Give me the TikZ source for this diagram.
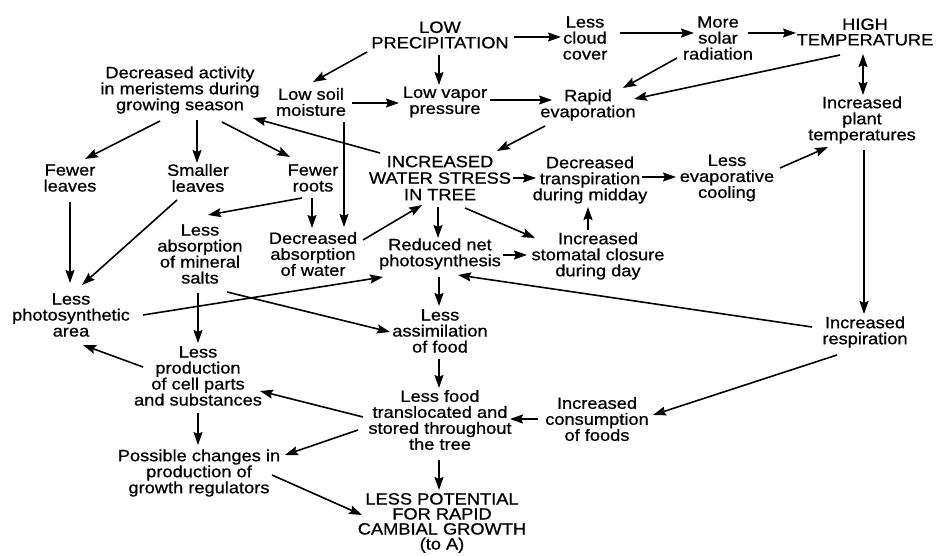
\documentclass[tikz,border=0pt]{standalone}
\usepackage{fontspec}
\setmainfont{Liberation Sans}[FakeStretch=1.12,FakeBold=0.8]
\usetikzlibrary{arrows.meta}
\newcommand\conn[5][]{\draw[arr,#1] ([shift={(#3)}]#2.center) -- ([shift={(#5)}]#4.center);}
\begin{document}
\begin{tikzpicture}[x=1pt,y=-1pt,
  box/.style={align=center,inner sep=0pt,font=\fontsize{16.3}{16}\selectfont},
  capsbox/.style={box,font=\fontsize{16.3}{15.5}\selectfont},
  arr/.style={line width=1.6pt,-{Stealth[length=13pt,width=9pt,inset=2pt]}},
  dblarr/.style={line width=1.6pt,{Stealth[length=13pt,width=9pt,inset=2pt]}-{Stealth[length=13pt,width=9pt,inset=2pt]}}]
\useasboundingbox (0,0) rectangle (938,556);

% causes at the top
\node[capsbox] (lowp)   at (440,35)  {LOW\\PRECIPITATION};
\node[box]     (cloud)  at (585,38)  {Less\\cloud\\cover};
\node[box]     (solar)  at (718,38)  {More\\solar\\radiation};
\node[capsbox] (hight)  at (865,32)  {HIGH\\TEMPERATURE};
\node[box]     (meri)   at (180,90)  {Decreased activity\\in meristems during\\growing season};
\node[box]     (soil)   at (311,102) {Low soil\\moisture};
\node[box]     (vapor)  at (445,102) {Low vapor\\pressure};
\node[box]     (rapid)  at (588,105) {Rapid\\evaporation};
\node[box]     (plantt) at (862,120) {Increased\\plant\\temperatures};

% middle band
\node[box]     (fleaves) at (70,178)  {Fewer\\leaves};
\node[box]     (sleaves) at (198,178) {Smaller\\leaves};
\node[box]     (froots)  at (313,178) {Fewer\\roots};
\node[box,font=\fontsize{16.3}{16.5}\selectfont] (stress) at (440,178) {INCREASED\\WATER STRESS\\IN TREE};
\node[box]     (transp)  at (590,180) {Decreased\\transpiration\\during midday};
\node[box]     (evapc)   at (727,178) {Less\\evaporative\\cooling};
\node[box]     (mineral) at (200,254) {Less\\absorption\\of mineral\\salts};
\node[box]     (decabs)  at (313,254) {Decreased\\absorption\\of water};
\node[box]     (rnp)     at (440,254) {Reduced net\\photosynthesis};
\node[box]     (stomata) at (598,256) {Increased\\stomatal closure\\during day};

% lower band
\node[box]     (parea)   at (71,315)  {Less\\photosynthetic\\area};
\node[box]     (assim)   at (440,331) {Less\\assimilation\\of food};
\node[box]     (resp)    at (865,332) {Increased\\respiration};
\node[box]     (prod)    at (198,376) {Less\\production\\of cell parts\\and substances};
\node[box]     (food)    at (440,420) {Less food\\translocated and\\stored throughout\\the tree};
\node[box]     (consum)  at (597,419) {Increased\\consumption\\of foods};
\node[box]     (regul)   at (199,473) {Possible changes in\\production of\\growth regulators};
\node[box,font=\fontsize{16.3}{15}\selectfont] (cambial) at (442,523) {LESS POTENTIAL\\FOR RAPID\\CAMBIAL GROWTH\\(to A)};

% connectors
\conn{lowp}{74,2}{cloud}{-24,-1}
\conn{lowp}{-73,17}{soil}{2,-20}
\conn{lowp}{-1,20}{vapor}{-6,-17}
\conn{cloud}{35,-5}{solar}{-24,-5}
\conn{solar}{30,-5}{hight}{-69,1}
\conn{solar}{-41,20}{rapid}{35,-17}
\conn{hight}{-25,23}{rapid}{46,-6}
\conn[dblarr]{hight}{-2,22}{plantt}{1,-25}
\conn{soil}{41,1}{vapor}{-46,1}
\conn{vapor}{45,-2}{rapid}{-36,-5}
\conn{rapid}{-43,21}{stress}{57,-27}
\conn{stress}{-60,-25}{meri}{73,28}
\conn{meri}{-20,31}{fleaves}{15,-19}
\conn{meri}{17,30}{sleaves}{-1,-15}
\conn{meri}{42,32}{froots}{-23,-21}
\conn{soil}{33,20}{decabs}{31,-27}
\conn{froots}{-1,20}{decabs}{-1,-26}
\conn{froots}{-11,20}{mineral}{8,-39}
\conn{sleaves}{-21,22}{parea}{11,-30}
\conn{fleaves}{0,24}{parea}{-1,-32}
\conn{decabs}{50,-14}{stress}{-18,27}
\conn{stress}{-2,29}{rnp}{-2,-16}
\conn{stress}{73,0}{transp}{-54,-2}
\conn{stress}{25,30}{stomata}{-63,-18}
\conn{transp}{52,-3}{evapc}{-51,-1}
\conn{evapc}{53,-10}{plantt}{-34,27}
\conn{plantt}{2,30}{resp}{-1,-18}
\conn{stomata}{-10,-26}{transp}{-2,27}
\conn{rnp}{63,1}{stomata}{-71,-1}
\conn{parea}{72,0}{rnp}{-57,23}
\conn{mineral}{27,38}{assim}{-50,1}
\conn{mineral}{-2,39}{prod}{0,-33}
\conn{rnp}{-1,23}{assim}{-1,-25}
\conn{resp}{-53,-5}{rnp}{18,21}
\conn{resp}{-28,23}{consum}{56,-4}
\conn{assim}{-1,28}{food}{-1,-32}
\conn{consum}{-59,0}{food}{70,-1}
\conn{food}{-77,-3}{prod}{62,15}
\conn{prod}{-55,-9}{parea}{12,30}
\conn{prod}{0,37}{regul}{-1,-28}
\conn{food}{-82,10}{regul}{86,-18}
\conn{food}{-1,40}{cambial}{-3,-33}
\conn{regul}{73,2}{cambial}{-80,-8}
\end{tikzpicture}
\end{document}
